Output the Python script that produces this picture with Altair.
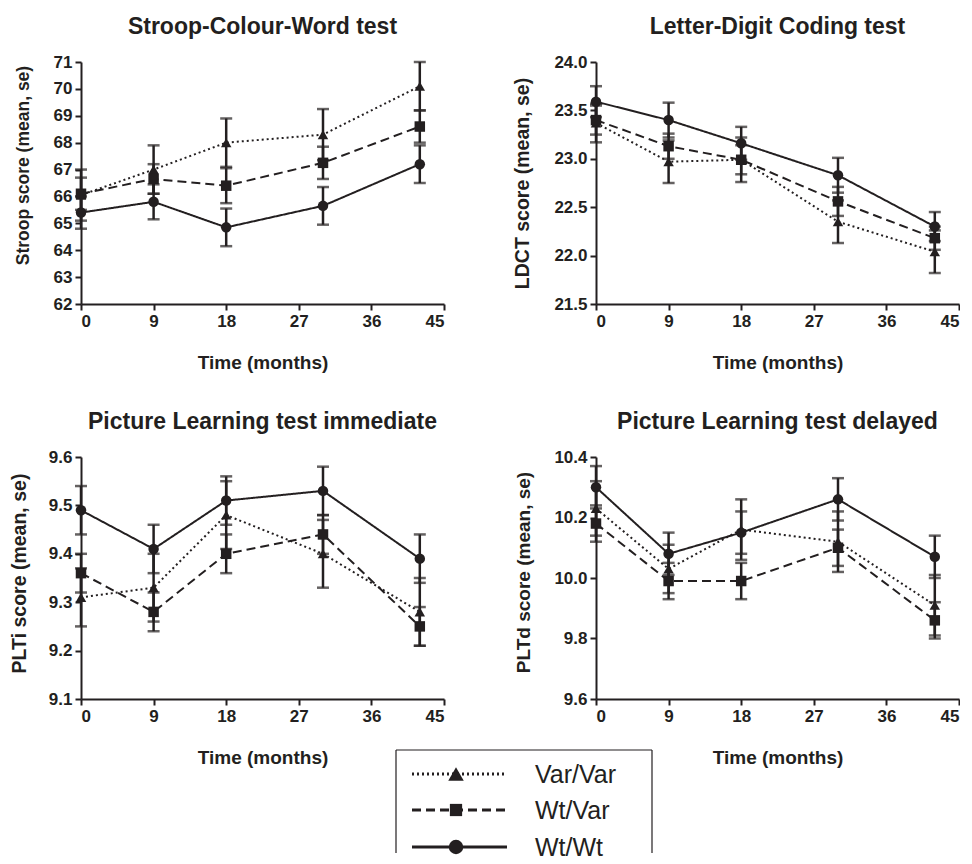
import altair as alt
import pandas as pd

FONT = "Liberation Sans"
INK = "#231f20"

times = [0, 9, 18, 30, 42]
groups = ["Var/Var", "Wt/Var", "Wt/Wt"]
x_ticks = [0, 9, 18, 27, 36, 45]

# Stroop-Colour-Word test
stroop_var_var = [66.05, 67.0, 68.0, 68.3, 70.1]
stroop_wt_var = [66.1, 66.65, 66.4, 67.25, 68.6]
stroop_wt_wt = [65.4, 65.8, 64.85, 65.65, 67.2]
stroop_se_var_var = [0.95, 0.9, 0.9, 0.95, 0.9]
stroop_se_wt_var = [0.6, 0.55, 0.65, 0.6, 0.6]
stroop_se_wt_wt = [0.6, 0.65, 0.7, 0.7, 0.7]
stroop_ticks = [62, 63, 64, 65, 66, 67, 68, 69, 70, 71]

# Letter-Digit Coding test
ldct_var_var = [23.37, 22.97, 22.99, 22.35, 22.04]
ldct_wt_var = [23.40, 23.13, 22.99, 22.56, 22.18]
ldct_wt_wt = [23.59, 23.40, 23.16, 22.83, 22.30]
ldct_se_var_var = [0.2, 0.22, 0.23, 0.22, 0.22]
ldct_se_wt_var = [0.15, 0.13, 0.15, 0.15, 0.12]
ldct_se_wt_wt = [0.16, 0.18, 0.17, 0.18, 0.15]
ldct_ticks = [21.5, 22.0, 22.5, 23.0, 23.5, 24.0]

# Picture Learning test immediate
plti_var_var = [9.31, 9.33, 9.48, 9.40, 9.28]
plti_wt_var = [9.36, 9.28, 9.40, 9.44, 9.25]
plti_wt_wt = [9.49, 9.41, 9.51, 9.53, 9.39]
plti_se_var_var = [0.06, 0.07, 0.07, 0.07, 0.07]
plti_se_wt_var = [0.04, 0.04, 0.04, 0.04, 0.04]
plti_se_wt_wt = [0.05, 0.05, 0.05, 0.05, 0.05]
plti_ticks = [9.1, 9.2, 9.3, 9.4, 9.5, 9.6]

# Picture Learning test delayed
pltd_var_var = [10.23, 10.03, 10.16, 10.12, 9.91]
pltd_wt_var = [10.18, 9.99, 9.99, 10.10, 9.86]
pltd_wt_wt = [10.30, 10.08, 10.15, 10.26, 10.07]
pltd_se_var_var = [0.09, 0.08, 0.10, 0.10, 0.10]
pltd_se_wt_var = [0.06, 0.06, 0.06, 0.06, 0.06]
pltd_se_wt_wt = [0.07, 0.07, 0.07, 0.07, 0.07]
pltd_ticks = [9.6, 9.8, 10.0, 10.2, 10.4]

dash_range = [[2, 3], [9, 5], [1, 0]]
shape_range = ["triangle-up", "square", "circle"]


def make_df(means, ses):
    rows = []
    for g, m, s in zip(groups, means, ses):
        for t, mv, sv in zip(times, m, s):
            rows.append({"time": t, "group": g, "mean": mv, "lo": mv - sv, "hi": mv + sv})
    return pd.DataFrame(rows)


def panel(title, ytitle, means, ses, yticks, fmt, ytitle_size, ytitle_y, ytitle_pad, extra=None):
    df = make_df(means, ses)
    x = alt.X("time:Q", scale=alt.Scale(domain=[0, 45], nice=False, zero=False),
              axis=alt.Axis(values=x_ticks, title="Time (months)"))
    yscale = alt.Scale(domain=[yticks[0], yticks[-1]], nice=False, zero=False)
    yaxis = alt.Axis(values=yticks, format=fmt, title=ytitle, titleFontSize=ytitle_size,
                     titleY=ytitle_y, titlePadding=ytitle_pad)
    dash = alt.StrokeDash("group:N", scale=alt.Scale(domain=groups, range=dash_range), legend=None)
    shape = alt.Shape("group:N", scale=alt.Scale(domain=groups, range=shape_range), legend=None)
    base = alt.Chart(df)
    lines = base.mark_line(color=INK, strokeWidth=2).encode(
        x=x, y=alt.Y("mean:Q", scale=yscale, axis=yaxis), strokeDash=dash, detail="group:N")
    bars = base.mark_rule(color=INK, strokeWidth=2.5).encode(
        x=x, y=alt.Y("lo:Q", scale=yscale, axis=yaxis), y2="hi:Q")
    cap_lo = base.mark_tick(color=INK, thickness=2.5, size=12, orient="horizontal").encode(
        x=x, y=alt.Y("lo:Q", scale=yscale, axis=yaxis))
    cap_hi = base.mark_tick(color=INK, thickness=2.5, size=12, orient="horizontal").encode(
        x=x, y=alt.Y("hi:Q", scale=yscale, axis=yaxis))
    pts = base.mark_point(color=INK, filled=True, opacity=1, size=110).encode(
        x=x, y=alt.Y("mean:Q", scale=yscale, axis=yaxis), shape=shape)
    layers = [lines, bars, cap_lo, cap_hi, pts]
    if extra:
        layers += extra
    return alt.layer(*layers).properties(
        width=363, height=242,
        title=alt.TitleParams(title, fontSize=23, font=FONT, fontWeight="bold",
                              color=INK, anchor="middle", offset=14))


# custom legend drawn inside the bottom-left panel (pixel offsets from its plot origin)
one = pd.DataFrame({"k": [0]})
legend_layers = []
box_l, box_r, box_t, box_b = 315, 571, 293, 396
legend_layers.append(alt.Chart(one).mark_rule(color=INK, strokeWidth=1.2).encode(
    x=alt.value(box_l), y=alt.value(box_t), x2=alt.value(box_r)))
legend_layers.append(alt.Chart(one).mark_rule(color=INK, strokeWidth=1.2).encode(
    x=alt.value(box_l), y=alt.value(box_t), y2=alt.value(box_b)))
legend_layers.append(alt.Chart(one).mark_rule(color=INK, strokeWidth=1.2).encode(
    x=alt.value(box_r), y=alt.value(box_t), y2=alt.value(box_b)))
row_y = [317, 353, 390]
for g, ry, dsh, shp, sz in zip(groups, row_y, dash_range, shape_range, [240, 150, 210]):
    legend_layers.append(alt.Chart(one).mark_rule(color=INK, strokeWidth=3, strokeDash=dsh).encode(
        x=alt.value(331), x2=alt.value(426), y=alt.value(ry)))
    legend_layers.append(alt.Chart(one).mark_point(color=INK, filled=True, opacity=1, shape=shp, size=sz).encode(
        x=alt.value(375), y=alt.value(ry)))
    legend_layers.append(alt.Chart(one).mark_text(font=FONT, fontSize=25, color=INK, align="left",
                                                  baseline="middle").encode(
        x=alt.value(454), y=alt.value(ry + 1), text=alt.value(g)))

p1 = panel("Stroop-Colour-Word test", "Stroop score (mean, se)",
           [stroop_var_var, stroop_wt_var, stroop_wt_wt],
           [stroop_se_var_var, stroop_se_wt_var, stroop_se_wt_wt], stroop_ticks, "d",
           17.5, 103, 21)
p2 = panel("Letter-Digit Coding test", "LDCT score (mean, se)",
           [ldct_var_var, ldct_wt_var, ldct_wt_wt],
           [ldct_se_var_var, ldct_se_wt_var, ldct_se_wt_wt], ldct_ticks, ".1f",
           19.5, 121, 21)
p3 = panel("Picture Learning test immediate", "PLTi score (mean, se)",
           [plti_var_var, plti_wt_var, plti_wt_wt],
           [plti_se_var_var, plti_se_wt_var, plti_se_wt_wt], plti_ticks, ".1f",
           19.5, 116, 19, extra=legend_layers)
p4 = panel("Picture Learning test delayed", "PLTd score (mean, se)",
           [pltd_var_var, pltd_wt_var, pltd_wt_wt],
           [pltd_se_var_var, pltd_se_wt_var, pltd_se_wt_wt], pltd_ticks, ".1f",
           19, 115, 20)

chart = alt.concat(
    p1, p2, p3, p4, columns=2,
    spacing=alt.RowColnumber(row=153, column=152) if hasattr(alt, "RowColnumber") else 152,
    bounds="flush",
).properties(
    padding={"left": 1, "top": 8, "right": 0, "bottom": 0}
).configure_view(stroke=None).configure_axis(
    grid=False,
    domainColor=INK, domainWidth=2,
    tickColor=INK, tickWidth=2, tickSize=6,
    labelFont=FONT, labelFontSize=17, labelFontWeight="bold", labelColor=INK, labelPadding=3,
    titleFont=FONT, titleFontWeight="bold", titleColor=INK,
).configure_axisX(
    titleFontSize=19, titlePadding=24, labelPadding=3,
)

chart.save("out.html", embed_options={"renderer": "svg", "actions": False})
